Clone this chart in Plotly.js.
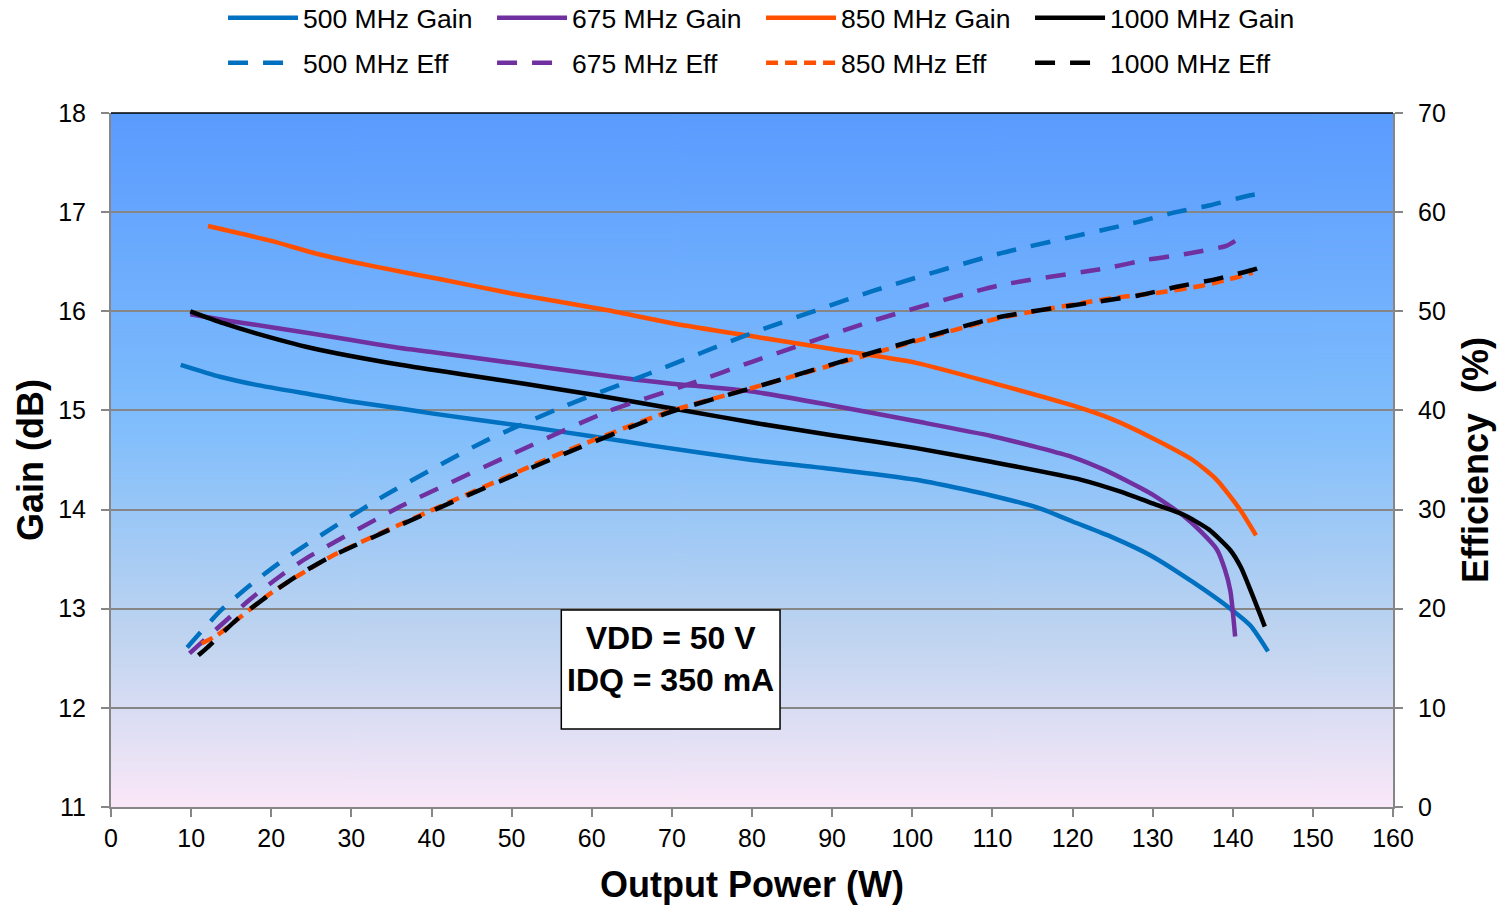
<!DOCTYPE html>
<html>
<head>
<meta charset="utf-8">
<script src="https://cdn.plot.ly/plotly-3.0.1.min.js"></script>
<style>html,body{margin:0;padding:0;background:#fff;}#chart{width:1507px;height:907px;}</style>
</head>
<body>
<div id="chart"></div>
<script>
// ---- Data ----
const seriesNames = ["500 MHz", "675 MHz", "850 MHz", "1000 MHz"];

const pGain500 = [8.7, 13.6, 18, 25, 30, 36.1, 40, 51.6, 60, 67.1, 80, 90, 100.5, 110, 116, 120, 125, 129.7, 135, 139.7, 142.2, 144.4];
const gain500  = [15.46, 15.34, 15.26, 15.16, 15.09, 15.02, 14.97, 14.84, 14.74, 14.65, 14.50, 14.41, 14.30, 14.14, 14.01, 13.88, 13.72, 13.54, 13.27, 13.00, 12.83, 12.57];

const pGain675 = [9.9, 15, 20, 30, 36.1, 40, 50, 60, 65.6, 70, 80, 90, 100.5, 110, 116, 120, 124, 127, 130, 133.8, 136, 138, 139, 139.7, 140.3];
const gain675  = [15.97, 15.90, 15.84, 15.71, 15.63, 15.59, 15.48, 15.37, 15.31, 15.27, 15.19, 15.05, 14.89, 14.74, 14.62, 14.53, 14.40, 14.28, 14.15, 13.94, 13.78, 13.60, 13.40, 13.18, 12.72];

const pGain850 = [12.1, 20, 25.7, 33, 41.3, 50, 62, 70, 80.6, 90, 100.5, 110.8, 120, 125, 130, 135, 138, 140.9, 142.9];
const gain850  = [16.86, 16.71, 16.58, 16.45, 16.32, 16.18, 16.01, 15.88, 15.74, 15.62, 15.48, 15.26, 15.05, 14.91, 14.72, 14.50, 14.30, 14.00, 13.74];

const pGain1000 = [9.9, 14, 18, 25, 36.1, 45, 51.6, 60, 70.8, 80.6, 90, 100.5, 110, 121.1, 126, 129.7, 133.8, 137, 139.7, 141, 142.2, 144.0];
const gain1000  = [16.00, 15.88, 15.78, 15.63, 15.46, 15.35, 15.27, 15.16, 15.01, 14.87, 14.75, 14.62, 14.48, 14.30, 14.18, 14.07, 13.95, 13.80, 13.59, 13.42, 13.19, 12.82];

const pEff500 = [9.5, 13.8, 17.7, 22.1, 33.5, 46.4, 56.8, 67.1, 80, 95.3, 110.8, 127.6, 132.4, 137.2, 142.2, 144.4];
const eff500  = [16.1, 19.9, 22.6, 25.25, 31.1, 36.8, 40.5, 43.7, 47.8, 52.1, 55.8, 58.9, 59.9, 60.7, 61.7, 62.0];

const pEff675 = [9.8, 17.3, 21.3, 24.7, 36.1, 49, 62, 72.3, 80, 95.3, 110.8, 124.6, 129.3, 134.3, 139.2, 140.3];
const eff675  = [15.5, 20.9, 23.4, 25.25, 30.3, 35.2, 39.9, 42.7, 44.9, 49.1, 52.6, 54.4, 55.2, 55.8, 56.6, 57.1];

const pEff850 = [11.3, 13.2, 20, 27.3, 41.3, 56.8, 69.7, 80.6, 95.3, 110.8, 124.7, 130.9, 136, 139.4, 141.7, 142.5];
const eff850  = [16.5, 17.3, 21.6, 25.2, 30.4, 35.9, 39.9, 42.4, 45.8, 49.3, 51.3, 51.9, 52.55, 53.2, 53.7, 53.9];

const pEff1000 = [10.9, 11.9, 15.7, 19.4, 23.2, 27.3, 41.3, 56.8, 69.7, 80.6, 95.3, 110.8, 128.2, 133.2, 138.2, 143.0, 144.1];
const eff1000  = [15.3, 16.0, 18.9, 21.2, 23.3, 25.2, 30.3, 35.7, 39.8, 42.4, 45.9, 49.4, 51.6, 52.5, 53.3, 54.3, 54.7];

const xTicks = [0, 10, 20, 30, 40, 50, 60, 70, 80, 90, 100, 110, 120, 130, 140, 150, 160];
const gainTicks = [11, 12, 13, 14, 15, 16, 17, 18];
const effTicks = [0, 10, 20, 30, 40, 50, 60, 70];

// ---- Styling ----
const FONT = "Liberation Sans, Arial, Helvetica, sans-serif";
const colors = ["#0070C0", "#7030A0", "#FF5000", "#000000"];
const effDash = ["20px,15px", "20px,15px", "12px,7px", "20px,15px"];

const gainX = [pGain500, pGain675, pGain850, pGain1000];
const gainY = [gain500, gain675, gain850, gain1000];
const effX = [pEff500, pEff675, pEff850, pEff1000];
const effY = [eff500, eff675, eff850, eff1000];

const traces = [];
for (let i = 0; i < 4; i++) {
  traces.push({
    type: "scatter", mode: "lines", x: gainX[i], y: gainY[i],
    name: seriesNames[i] + " Gain", legend: "legend",
    line: {color: colors[i], width: 4.5, shape: "spline", smoothing: 0.6},
    xaxis: "x", yaxis: "y", hoverinfo: "skip"
  });
}
for (let i = 0; i < 4; i++) {
  traces.push({
    type: "scatter", mode: "lines", x: effX[i], y: effY[i],
    name: seriesNames[i] + " Eff", legend: "legend2",
    line: {color: colors[i], width: 4.5, dash: effDash[i], shape: "spline", smoothing: 0.6},
    xaxis: "x", yaxis: "y2", hoverinfo: "skip"
  });
}
const ordered = [traces[4], traces[5], traces[6], traces[7], traces[0], traces[1], traces[2], traces[3]];

// gradient background image
const cv = document.createElement("canvas");
cv.width = 8; cv.height = 700;
const ctx = cv.getContext("2d");
const g = ctx.createLinearGradient(0, 0, 0, 700);
g.addColorStop(0, "rgb(90,155,255)");
g.addColorStop(0.45, "rgb(128,190,252)");
g.addColorStop(0.75, "rgb(190,212,240)");
g.addColorStop(1, "rgb(250,232,248)");
ctx.fillStyle = g; ctx.fillRect(0, 0, 8, 700);
const bgURL = cv.toDataURL("image/png");

const tickFont = {family: FONT, size: 25, color: "#000"};
const titleFont = {family: FONT, size: 36, color: "#000", weight: "bold"};
const legFont = {family: FONT, size: 26.5, color: "#000"};

const layout = {
  width: 1507, height: 907,
  margin: {l: 111, r: 114, t: 113, b: 100, pad: 0, autoexpand: false},
  paper_bgcolor: "#ffffff",
  plot_bgcolor: "rgba(0,0,0,0)",
  showlegend: true,
  font: {family: FONT, color: "#000"},
  xaxis: {
    range: [0, 160], tickvals: xTicks, ticktext: xTicks.map(String),
    showgrid: false, zeroline: false,
    showline: true, linecolor: "#868686", linewidth: 2,
    ticks: "outside", ticklen: 8, tickwidth: 2, tickcolor: "#868686",
    tickfont: tickFont, ticklabelstandoff: 0,
    title: {text: "<b>Output Power (W)</b>", font: titleFont, standoff: 21}
  },
  yaxis: {
    range: [11, 18], tickvals: gainTicks, ticktext: gainTicks.map(String),
    showgrid: true, gridcolor: "#868686", gridwidth: 2, zeroline: false,
    showline: true, linecolor: "#868686", linewidth: 2,
    ticks: "outside", ticklen: 8, tickwidth: 2, tickcolor: "#868686",
    tickfont: tickFont, ticklabelstandoff: 10,
    title: {text: "<b>Gain (dB)</b>", font: titleFont, standoff: 4}
  },
  yaxis2: {
    range: [0, 70], tickvals: effTicks, ticktext: effTicks.map(String),
    overlaying: "y", side: "right",
    showgrid: false, zeroline: false,
    showline: true, linecolor: "#868686", linewidth: 2,
    ticks: "outside", ticklen: 8, tickwidth: 2, tickcolor: "#868686",
    tickfont: tickFont, ticklabelstandoff: 10,
    title: {text: "<b>Efficiency\u00A0 (%)</b>", font: titleFont, standoff: 18}
  },
  legend: {
    orientation: "h", x: 0.0874, xanchor: "left", y: 1.1715, yanchor: "top",
    font: legFont, entrywidth: 184, entrywidthmode: "pixels", itemwidth: 70,
    bgcolor: "rgba(0,0,0,0)", traceorder: "normal"
  },
  legend2: {
    orientation: "h", x: 0.0874, xanchor: "left", y: 1.1066, yanchor: "top",
    font: legFont, entrywidth: 184, entrywidthmode: "pixels", itemwidth: 70,
    bgcolor: "rgba(0,0,0,0)", traceorder: "normal"
  },
  images: [{
    source: bgURL, xref: "paper", yref: "paper", x: 0, y: 1,
    sizex: 1, sizey: 1, sizing: "stretch", xanchor: "left", yanchor: "top", layer: "below"
  }],
  shapes: [
    {type: "line", xref: "paper", yref: "paper", x0: 0, x1: 1, y0: 1, y1: 1,
     line: {color: "#000", width: 1.5}},
    {type: "rect", xref: "x", yref: "y", x0: 56.2, x1: 83.5, y0: 11.787, y1: 12.987,
     fillcolor: "#ffffff", line: {color: "#000", width: 1.5}, layer: "above"}
  ],
  annotations: [{
    xref: "x", yref: "y", x: 69.85, y: 12.49, showarrow: false,
    text: "<b>VDD = 50 V</b><br><b>IDQ = 350 mA</b>",
    font: {family: FONT, size: 32, color: "#000"}, align: "center"
  }]
};

Plotly.newPlot("chart", ordered, layout, {displayModeBar: false, staticPlot: true});
</script>
</body>
</html>
